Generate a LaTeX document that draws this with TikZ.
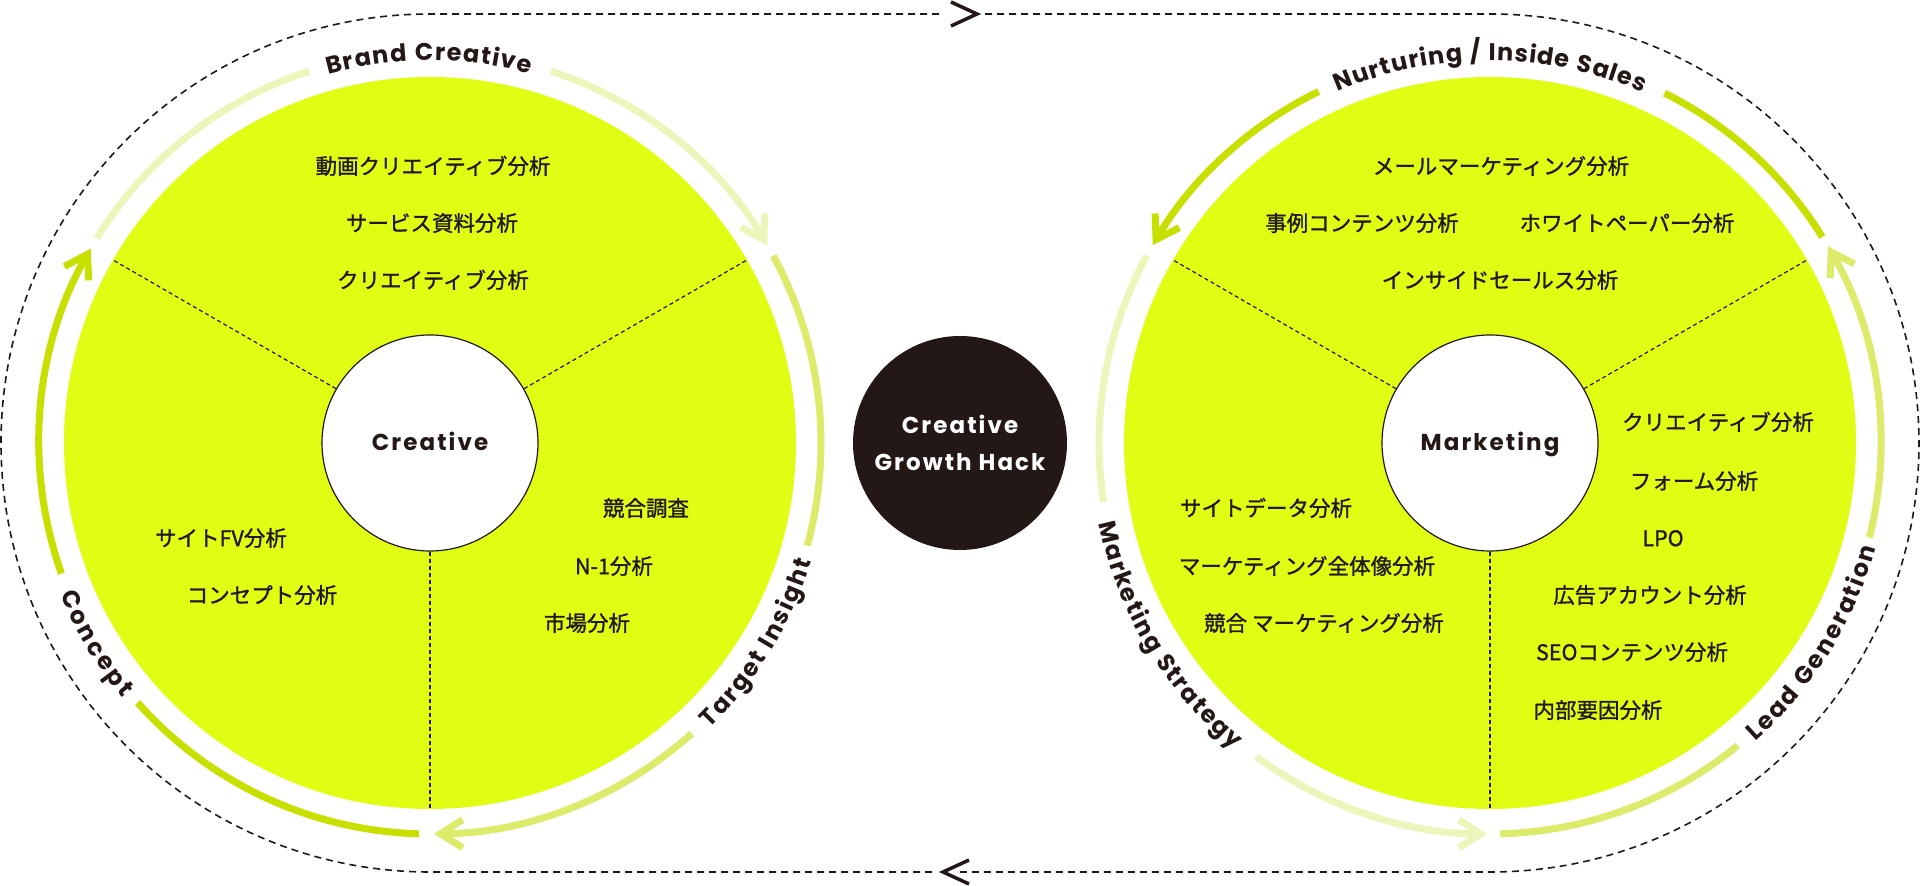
\documentclass[tikz,border=0pt]{standalone}
\usepackage{fontspec}
\newfontfamily\jpfont{Noto Sans CJK JP}[FakeBold=1.2]
\newfontfamily\labfont{Poppins}
\newfontfamily\labspfont{Poppins}[LetterSpace=9]
\usetikzlibrary{arrows.meta,decorations.text}
\definecolor{yel}{HTML}{E0FE14}
\definecolor{strong}{HTML}{C8E000}
\definecolor{medium}{HTML}{DCEB6A}
\definecolor{pale}{HTML}{ECF6BB}
\definecolor{ink}{HTML}{231815}
\tikzset{
  jp/.style={font=\jpfont\fontsize{21.5}{21.5}\selectfont, text=ink, inner sep=0pt, text height=17.8pt, text depth=1.5pt, anchor=center},
  ringarc/.style={line width=7pt},
  tipped/.style={-{Straight Barb[length=22pt,width=28pt]}},
  radline/.style={draw=ink, line width=1.2pt, dash pattern=on 4pt off 3pt},
  loopline/.style={draw=ink, line width=1.6pt, dash pattern=on 7pt off 5pt},
  chev/.style={draw=ink, line width=3.5pt, line join=miter},
  inner/.style={circle, draw=ink, line width=1.2pt, fill=white, minimum size=216pt, inner sep=0pt, text=ink,
    font=\labspfont\bfseries\fontsize{23}{23}\selectfont, text height=16pt, text depth=0pt},
  disc/.style={circle, fill=yel, minimum size=732pt, inner sep=0pt},
  arclabel/.style={decorate, decoration={text along path, text align=fit to path, raise=-8.5pt,
    text={|\labfont\bfseries\fontsize{24}{24}\selectfont\color{ink}|#1}}}
}
\begin{document}
\begin{tikzpicture}[x=1pt,y=1pt]
\useasboundingbox (0,0) rectangle (1920,886);
\fill[white] (0,0) rectangle (1920,886);
\coordinate (CL) at (430,443);
\coordinate (CR) at (1490,443);

% outer dashed loop
\coordinate (t1) at (985,872);
\coordinate (t2) at (940,872);
\coordinate (b1) at (958,14);
\coordinate (b2) at (932,14);
\draw[loopline] (t1) -- (1490,872) arc[start angle=90, end angle=-90, radius=429] -- (b1);
\draw[loopline] (b2) -- (430,14) arc[start angle=270, end angle=90, radius=429] -- (t2);
\draw[chev] (951,884) -- (977,872) -- (951,860);
\draw[chev] (969,26) -- (943,14) -- (969,2);

% discs
\node[disc] (yL) at (CL) {};
\node[disc] (yR) at (CR) {};
\node[inner] (cre) at (CL) {Creative};
\node[inner] (mkt) at (CR) {Marketing};
\draw[radline] (cre.30) -- (yL.30);
\draw[radline] (cre.150) -- (yL.150);
\draw[radline] (cre.270) -- (yL.270);
\draw[radline] (mkt.30) -- (yR.30);
\draw[radline] (mkt.150) -- (yR.150);
\draw[radline] (mkt.270) -- (yR.270);

% hub
\node[circle, fill=ink, minimum size=214pt, inner sep=0pt, text=white, align=center,
  font=\labspfont\bfseries\fontsize{23}{36.5}\selectfont] (hub) at (960,443) {Creative\\Growth Hack};

% left ring
\draw[ringarc, strong] ([shift={(268.4:391)}]CL) arc[start angle=268.4, end angle=221.6, radius=391];
\draw[ringarc, strong, tipped] ([shift={(199.5:391)}]CL) arc[start angle=199.5, end angle=150.2, radius=391];
\draw[ringarc, pale] ([shift={(148.4:391)}]CL) arc[start angle=148.4, end angle=108, radius=391];
\draw[ringarc, pale, tipped] ([shift={(72:391)}]CL) arc[start angle=72, end angle=30.4, radius=391];
\draw[ringarc, medium] ([shift={(28.6:391)}]CL) arc[start angle=28.6, end angle=-15.2, radius=391];
\draw[ringarc, medium, tipped] ([shift={(-48:391)}]CL) arc[start angle=-48, end angle=-89.4, radius=391];

% right ring
\draw[ringarc, strong] ([shift={(31.8:391)}]CR) arc[start angle=31.8, end angle=63.5, radius=391];
\draw[ringarc, strong, tipped] ([shift={(116:391)}]CR) arc[start angle=116, end angle=149.6, radius=391];
\draw[ringarc, pale] ([shift={(151.4:391)}]CR) arc[start angle=151.4, end angle=188.7, radius=391];
\draw[ringarc, pale, tipped] ([shift={(233.3:391)}]CR) arc[start angle=233.3, end angle=269.6, radius=391];
\draw[ringarc, medium] ([shift={(271.5:391)}]CR) arc[start angle=271.5, end angle=309.3, radius=391];
\draw[ringarc, medium, tipped] ([shift={(346:391)}]CR) arc[start angle=346, end angle=390.2, radius=391];

% ring labels
\path[arclabel={Brand Creative}] ([shift={(105.4:391)}]CL) arc[start angle=105.4, end angle=74.9, radius=391];
\path[arclabel={Concept}] ([shift={(202.2:391)}]CL) arc[start angle=202.2, end angle=219.7, radius=391];
\path[arclabel={Target Insight}] ([shift={(-45.6:391)}]CL) arc[start angle=-45.6, end angle=-17.2, radius=391];
\path[arclabel={Nurturing / Inside Sales}] ([shift={(113.4:391)}]CR) arc[start angle=113.4, end angle=66.5, radius=391];
\path[arclabel={Marketing Strategy}] ([shift={(191.6:391)}]CR) arc[start angle=191.6, end angle=230.2, radius=391];
\path[arclabel={Lead Generation}] ([shift={(-48.4:391)}]CR) arc[start angle=-48.4, end angle=-15.2, radius=391];

% left texts
\node[jp] (l1) at (433,720) {動画クリエイティブ分析};
\node[jp] (l2) at (432,663) {サービス資料分析};
\node[jp] (l3) at (433,606) {クリエイティブ分析};
\node[jp] (l4) at (646,378) {競合調査};
\node[jp] (l5) at (614,320) {N-1分析};
\node[jp] (l6) at (587,263) {市場分析};
\node[jp] (l7) at (221,348) {サイトFV分析};
\node[jp] (l8) at (262,291) {コンセプト分析};

% right texts
\node[jp] (r1) at (1501,720) {メールマーケティング分析};
\node[jp] (r2) at (1362,663) {事例コンテンツ分析};
\node[jp] (r3) at (1627,663) {ホワイトペーパー分析};
\node[jp] (r4) at (1500,606) {インサイドセールス分析};
\node[jp] (r5) at (1718,464) {クリエイティブ分析};
\node[jp] (r6) at (1694,405) {フォーム分析};
\node[jp] (r7) at (1663,348) {LPO};
\node[jp] (r8) at (1650,291) {広告アカウント分析};
\node[jp] (r9) at (1632,234) {SEOコンテンツ分析};
\node[jp] (r10) at (1598,176) {内部要因分析};
\node[jp] (r11) at (1266,378) {サイトデータ分析};
\node[jp] (r12) at (1307,320) {マーケティング全体像分析};
\node[jp] (r13) at (1324,263) {競合\hspace{5pt}マーケティング分析};
\end{tikzpicture}
\end{document}
